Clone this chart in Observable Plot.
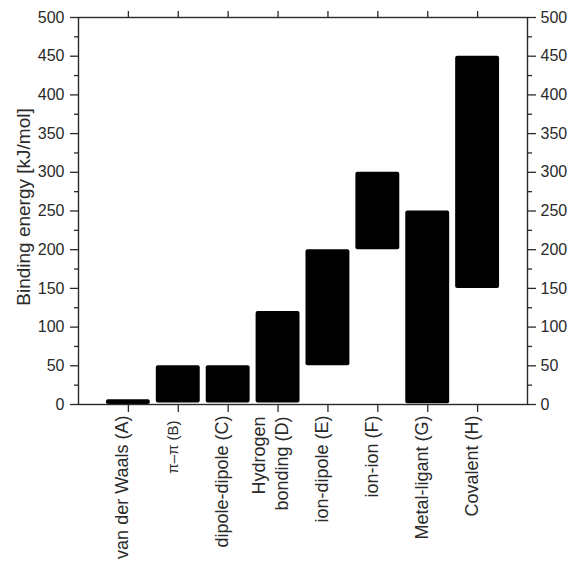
<!DOCTYPE html>
<html>
<head>
<meta charset="utf-8">
<script src="https://cdn.jsdelivr.net/npm/d3@7"></script>
<script src="https://cdn.jsdelivr.net/npm/@observablehq/plot@0.6"></script>
<style>
  html, body { margin: 0; padding: 0; background: #fff; }
  #chart { width: 572px; height: 568px; }
</style>
</head>
<body>
<div id="chart"></div>
<script>
// Data
const categories = ["van der Waals (A)", "π–π (B)", "dipole-dipole (C)", "Hydrogen\nbonding (D)", "ion-dipole (E)", "ion-ion (F)", "Metal-ligant (G)", "Covalent (H)"];
const lowEnergy = [0, 2, 2, 2, 50, 200, 1, 150];
const highEnergy = [6, 50, 50, 120, 200, 300, 250, 450];
const yTicks = [0, 50, 100, 150, 200, 250, 300, 350, 400, 450, 500];
const yMinorTicks = [25, 75, 125, 175, 225, 275, 325, 375, 425, 475];
const yLabel = "Binding energy [kJ/mol]";

const positions = categories.map((_, i) => i + 1);
const bars = categories.map((c, i) => ({pos: i + 1, name: c, lo: lowEnergy[i], hi: highEnergy[i]}));
const half = 0.44;
const ink = "#2a2a2a";
const isMulti = d => d.name.includes("\n");

const chart = Plot.plot({
  width: 572,
  height: 568,
  marginLeft: 78,
  marginRight: 45,
  marginTop: 17,
  marginBottom: 164,
  style: {fontFamily: "'Liberation Sans', Arial, sans-serif", color: ink, background: "#fff"},
  x: {type: "linear", domain: [0, 9]},
  y: {domain: [0, 500]},
  marks: [
    Plot.rect(bars, {x1: d => d.pos - half, x2: d => d.pos + half, y1: "lo", y2: "hi", fill: "#000", rx: 2}),
    Plot.frame({stroke: ink, strokeWidth: 1.4}),
    // left axis
    Plot.axisY({ticks: yTicks, anchor: "left", tickSize: 8, tickPadding: 6, fontSize: 16, label: null, stroke: ink, strokeWidth: 1.3}),
    Plot.axisY({ticks: yMinorTicks, anchor: "left", tickSize: 4, tickFormat: () => "", label: null, stroke: ink, strokeWidth: 1.3}),
    // right axis
    Plot.axisY({ticks: yTicks, anchor: "right", tickSize: 8, tickPadding: 5, fontSize: 16, label: null, stroke: ink, strokeWidth: 1.3}),
    Plot.axisY({ticks: yMinorTicks, anchor: "right", tickSize: 4, tickFormat: () => "", label: null, stroke: ink, strokeWidth: 1.3}),
    // top and bottom ticks
    Plot.axisX({ticks: positions, anchor: "bottom", tickSize: 8, tickFormat: () => "", label: null, stroke: ink, strokeWidth: 1.3}),
    Plot.axisX({ticks: positions, anchor: "top", tickSize: 7, tickFormat: () => "", label: null, stroke: ink, strokeWidth: 1.3}),
    // category labels (rotated)
    Plot.text(bars.filter((d, i) => i !== 1 && !isMulti(d)), {x: "pos", text: "name", frameAnchor: "bottom", dy: 11, rotate: -90, textAnchor: "end", fontSize: 18, fill: ink}),
    Plot.text(bars.filter(isMulti), {x: "pos", text: "name", frameAnchor: "bottom", dx: 10, dy: 12, rotate: -90, textAnchor: "end", lineHeight: 1.3, fontSize: 18, fill: ink}),
    Plot.text(bars.filter((d, i) => i === 1), {x: "pos", text: "name", frameAnchor: "bottom", dy: 16, rotate: -90, textAnchor: "end", fontSize: 15, fill: ink}),
    // y label
    Plot.text([yLabel], {frameAnchor: "left", textAnchor: "middle", dx: -55, dy: -4, rotate: -90, fontSize: 19, fill: ink})
  ]
});

document.getElementById("chart").appendChild(chart);
</script>
</body>
</html>
